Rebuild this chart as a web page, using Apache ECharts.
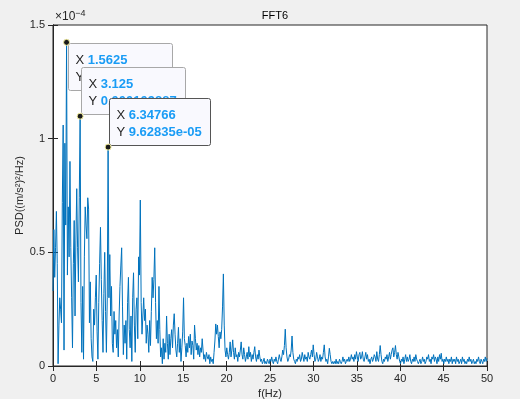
<!DOCTYPE html>
<html>
<head>
<meta charset="utf-8">
<script src="https://cdn.jsdelivr.net/npm/echarts@6/dist/echarts.min.js"></script>
<style>
  html, body { margin: 0; padding: 0; background: #f0f0f0; }
  #chart { width: 520px; height: 399px; }
</style>
</head>
<body>
<div id="chart"></div>
<script>
// FFT bin width (Hz): fs = 100 Hz, N = 1024
const freqStep = 100 / 1024;

// PSD values, in units of 1e-6 (m/s^2)^2/Hz, one per bin from 0 to 50 Hz
const psdMicro = [
  33, 60, 39, 52, 68, 45, 1, 18, 30, 25,
  19, 72, 106, 7, 98, 62, 142.376, 40, 70, 48,
  90, 52, 30, 8, 45, 64, 22, 55, 78, 52,
  37, 74, 109.887, 28, 6, 35, 3, 48, 70, 62,
  56, 74, 69, 19, 37, 12, 4, 2, 25, 18,
  30, 40, 15, 3, 28, 45, 61, 38, 20, 6,
  32, 50, 24, 6, 30, 96.2835, 30, 49, 22, 35,
  10, 6, 24, 14, 20, 8, 16, 4, 22, 35,
  44, 52, 26, 5, 18, 10, 20, 3, 28, 39,
  16, 8, 22, 2, 30, 41, 18, 6, 25, 30,
  12, 48, 40, 73, 28, 14, 22, 30, 20, 25,
  10, 18, 14, 6, 20, 9, 24, 39, 30, 38,
  52, 28, 12, 20, 10, 35, 16, 4, 8, 1,
  12, 3, 10, 6, 22, 10, 3, 14, 5, 12,
  16, 8, 18, 23, 14, 7, 4, 10, 17, 6,
  12, 2, 8, 15, 30, 12, 9, 4, 10, 6,
  13, 8, 14, 5, 11, 9, 3, 18, 12, 7,
  10, 5, 9, 4, 8, 6, 12, 7, 3, 5,
  2, 6, 4, 3, 5, 1, 4, 2, 3, 1,
  6, 11, 18.5, 14, 18, 13, 8, 15, 12, 16,
  26, 40.5, 18, 7, 4, 8, 5, 3, 6, 10.6,
  4, 7, 11.5, 6, 3, 8, 4, 5, 2, 6,
  4, 7, 10.6, 5, 3, 8, 5, 2, 4, 6,
  3, 8.5, 4, 6, 2, 5, 3, 6, 8.5, 4,
  2, 5, 3, 7, 4, 2, 3, 1, 2, 3.4,
  1, 2, 1, 3, 2, 1, 3, 2, 4, 2,
  1, 3, 2, 4, 2, 1, 3, 5, 3, 2,
  4, 7, 5, 9, 16.2, 8, 4, 2, 3, 5,
  4, 7, 13.2, 6, 3, 2, 1, 3, 2, 4,
  3, 5, 2, 3, 6, 4, 2, 5, 3, 4,
  2, 6, 4, 3, 5, 7, 4, 9.3, 5, 2,
  3, 6, 4, 2, 3, 5, 2, 4, 3, 6,
  9.3, 4, 2, 3, 1, 4, 7.8, 5, 2, 1,
  2, 1, 2, 1, 3, 1, 2, 1, 3, 2,
  1, 2, 4, 2, 3, 1, 2, 3, 2, 4,
  2, 3, 5, 3, 4, 2, 5, 3, 6.3, 4,
  2, 5, 6, 3, 4, 6.3, 3, 2, 4, 6,
  3, 5, 2, 3, 1, 3, 4, 2, 3, 5,
  4, 2, 6.3, 3, 2, 5, 9, 5, 2, 1,
  3, 2, 4, 3, 5, 2, 4, 6, 3, 5,
  7, 8, 4, 6, 9, 5, 3, 6, 4, 2,
  1, 3, 2, 4, 1, 3, 5, 2, 4, 2,
  3, 5, 2, 1, 3, 2, 4, 2, 5, 3,
  2, 1, 2, 3, 1, 2, 4, 2, 3, 1,
  2, 4, 3, 5, 2, 3, 1, 4, 3, 5,
  2, 4, 3, 1, 4, 2, 5, 3, 5.6, 2,
  3, 1, 3, 2, 4, 2, 3, 1, 3, 2,
  4, 1, 3, 2, 3, 1, 4, 2, 3, 1,
  2, 3, 1, 4, 2, 3, 1, 2, 1, 3,
  2, 4, 2, 3, 1, 2, 3, 1, 2, 1,
  3, 2, 4, 2, 1, 3, 2, 1, 3, 2,
  4, 2, 3.4
];

// bins that carry a data tip, drawn in this order (last on top)
const tipBins = [16, 32, 65];

const xTicks = [0, 5, 10, 15, 20, 25, 30, 35, 40, 45, 50];
const yTicks = [0, 50, 100, 150];

const lineData = psdMicro.map((v, i) => [i * freqStep, v]);

function fmtG(v) {
  // MATLAB %g style, 6 significant digits
  if (v < 1e-4) {
    const s = v.toExponential(5).split('e');
    const e = parseInt(s[1], 10);
    return s[0] + 'e' + (e < 0 ? '-' : '+') + String(Math.abs(e)).padStart(2, '0');
  }
  return String(parseFloat(v.toPrecision(6)));
}

const font = 'Liberation Sans, Arial, sans-serif';
const tipBelow = [true, false, false];

const measureCtx = document.createElement('canvas').getContext('2d');
function textWidth(str, bold) {
  measureCtx.font = (bold ? 'bold ' : '') + '13px ' + font;
  return measureCtx.measureText(str).width;
}

// one data tip: box, two text rows, dot
function makeTipRender(k) {
  return function (params, api) {
    const fx = api.value(0);
    const fy = api.value(1);
    const pt = api.coord([fx, fy]);
    const xs = fmtG(fx);
    const ys = fmtG(fy * 1e-6);
    const w = Math.round(7 + Math.max(
      textWidth('X ', false) + textWidth(xs, true),
      textWidth('Y ', false) + textWidth(ys, true)) + 9);
    const h = 47;
    const bx = Math.round(pt[0]) + 1.5;
    const by = tipBelow[k] ? Math.round(pt[1]) + 1.5 : Math.round(pt[1]) - h - 1.5;
    return {
      type: 'group',
      children: [{
        type: 'rect',
        z2: 1,
        shape: { x: bx, y: by, width: w, height: h, r: 2 },
        style: { fill: '#f9f9fe', stroke: k === 2 ? '#555' : '#a8a8a8', lineWidth: 1 },
      }, {
        type: 'text',
        z2: 2,
        x: bx + 7,
        y: by + 8.5,
        style: {
          text: '{k|X }{v|' + xs + '}\n{k|Y }{v|' + ys + '}',
          align: 'left',
          verticalAlign: 'top',
          rich: {
            k: { fontFamily: font, fontSize: 13, fill: '#262626', lineHeight: 17 },
            v: { fontFamily: font, fontSize: 13, fontWeight: 'bold', fill: '#1a9cf5', lineHeight: 17 },
          },
        },
      }, {
        type: 'circle',
        z2: 3,
        shape: { cx: pt[0], cy: pt[1], r: 3 },
        style: { fill: '#1a1a1a', stroke: '#f5f0a0', lineWidth: 1 },
      }],
    };
  };
}

const tipSeries = tipBins.map((bin, k) => ({
  type: 'custom',
  zlevel: 1 + k,
  clip: false,
  data: [lineData[bin]],
  renderItem: makeTipRender(k),
}));

const chart = echarts.init(document.getElementById('chart'));
chart.setOption({
  backgroundColor: '#f0f0f0',
  animation: false,
  title: {
    text: 'FFT6',
    left: 270,
    top: 5,
    textAlign: 'center',
    textStyle: { fontFamily: font, fontSize: 11, fontWeight: 'normal', color: '#000' },
  },
  graphic: [{
    type: 'text',
    left: 55,
    top: 9,
    style: {
      text: '{a|×10}{b|−4}',
      rich: {
        a: { fontFamily: font, fontSize: 12, fill: '#262626' },
        b: { fontFamily: font, fontSize: 9, fill: '#262626', verticalAlign: 'top', padding: [0, 0, 6, 0] },
      },
    },
  }],
  grid: {
    left: 53, right: 33, top: 25, bottom: 33,
    outerBoundsMode: 'none',
    containLabel: false,
    show: true, backgroundColor: '#fff', borderColor: '#262626', borderWidth: 1,
  },
  xAxis: [{
    type: 'value',
    min: xTicks[0],
    max: xTicks[xTicks.length - 1],
    interval: 5,
    name: 'f(Hz)',
    nameLocation: 'middle',
    nameGap: 22,
    nameTextStyle: { fontFamily: font, fontSize: 11, color: '#262626' },
    axisLine: { show: true, lineStyle: { color: '#262626' } },
    axisTick: { inside: true, length: 5, lineStyle: { color: '#262626' } },
    axisLabel: { fontFamily: font, fontSize: 11, color: '#262626', margin: 7 },
    splitLine: { show: false },
  }, {
    type: 'value',
    position: 'top',
    min: xTicks[0],
    max: xTicks[xTicks.length - 1],
    interval: 5,
    axisLine: { show: true, lineStyle: { color: '#262626' } },
    axisTick: { inside: true, length: 5, lineStyle: { color: '#262626' } },
    axisLabel: { show: false },
    splitLine: { show: false },
  }],
  yAxis: [{
    type: 'value',
    min: yTicks[0],
    max: yTicks[yTicks.length - 1],
    interval: 50,
    name: 'PSD((m/s²)²/Hz)',
    nameLocation: 'middle',
    nameGap: 28,
    nameMoveOverlap: false,
    nameTextStyle: { fontFamily: font, fontSize: 11, color: '#262626' },
    axisLine: { show: true, lineStyle: { color: '#262626' } },
    axisTick: { inside: true, length: 5, lineStyle: { color: '#262626' } },
    axisLabel: { fontFamily: font, fontSize: 11, color: '#262626', margin: 8, formatter: (v) => String(v / 100) },
    splitLine: { show: false },
  }, {
    type: 'value',
    position: 'right',
    min: yTicks[0],
    max: yTicks[yTicks.length - 1],
    interval: 50,
    axisLine: { show: true, lineStyle: { color: '#262626' } },
    axisTick: { inside: true, length: 5, lineStyle: { color: '#262626' } },
    axisLabel: { show: false },
    splitLine: { show: false },
  }],
  series: [{
    type: 'line',
    data: lineData,
    showSymbol: false,
    lineStyle: { color: '#0072bd', width: 1 },
    z: 2,
  }, ...tipSeries],
});
</script>
</body>
</html>
